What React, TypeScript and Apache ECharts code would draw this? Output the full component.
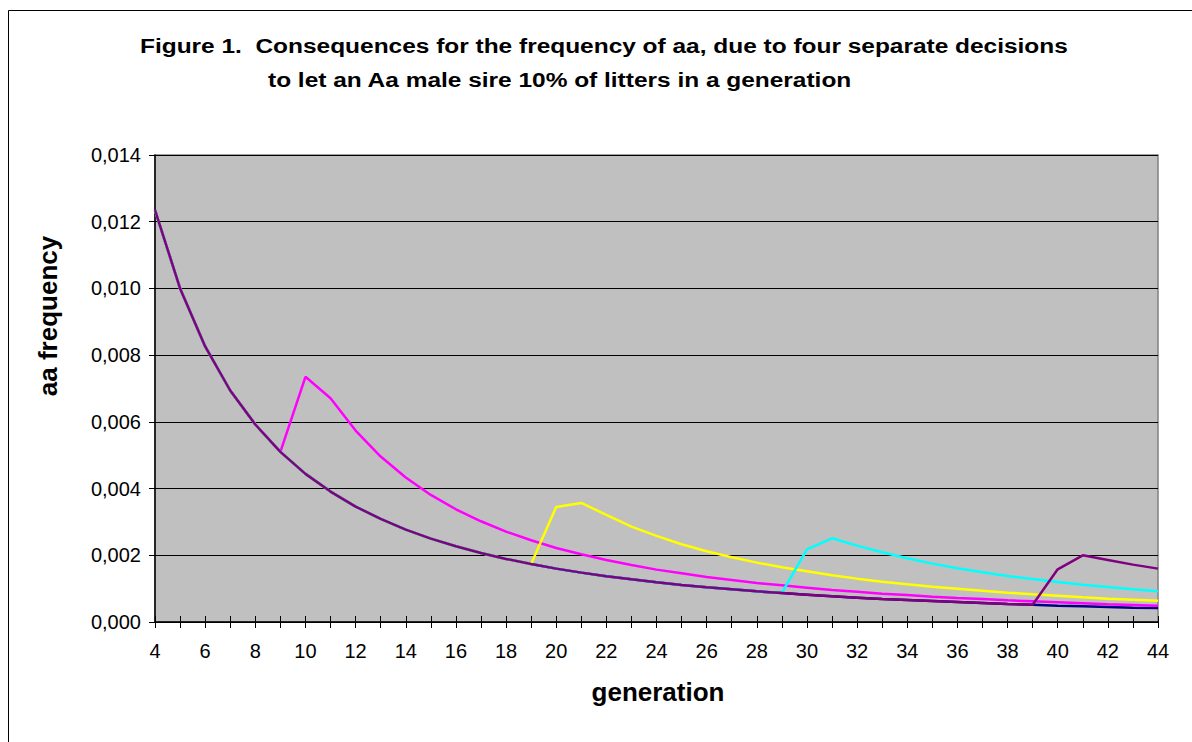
import React, { useEffect, useRef } from "react";
import * as echarts from "echarts";

const generations: string[] = [
  "4", "5", "6", "7", "8", "9", "10", "11", "12", "13", "14", "15", "16", "17", "18", "19", "20",
  "21", "22", "23", "24", "25", "26", "27", "28", "29", "30", "31", "32", "33", "34", "35", "36",
  "37", "38", "39", "40", "41", "42", "43", "44",
];

// aa frequency without any extra Aa sire (generations 4..44)
const baseFreq: number[] = [
  0.01235, 0.01, 0.00826, 0.00694, 0.00592, 0.0051, 0.00444, 0.00391, 0.00346, 0.00309,
  0.00277, 0.0025, 0.00227, 0.00207, 0.00189, 0.00174, 0.0016, 0.00148, 0.00137, 0.00128,
  0.00119, 0.00111, 0.00104, 0.00098, 0.00092, 0.00087, 0.00082, 0.00077, 0.00073, 0.00069,
  0.00066, 0.00063, 0.0006, 0.00057, 0.00054, 0.00052, 0.00049, 0.00047, 0.00045, 0.00043,
  0.00042,
];

// decisions: generation of decision and the values from the following generation on
const decision1Gen = 9;
const decision1After: number[] = [
  0.00735, 0.00671, 0.00574, 0.00496, 0.00433, 0.00381, 0.00338, 0.00302, 0.00271, 0.00245,
  0.00222, 0.00203, 0.00186, 0.00171, 0.00157, 0.00146, 0.00135, 0.00126, 0.00117, 0.0011,
  0.00103, 0.00096, 0.00091, 0.00085, 0.00081, 0.00076, 0.00072, 0.00069, 0.00065, 0.00062,
  0.00059, 0.00056, 0.00053, 0.00051, 0.00049,
];
const decision2Gen = 19;
const decision2After: number[] = [
  0.00345, 0.00357, 0.00321, 0.00286, 0.00258, 0.00233, 0.00212, 0.00194, 0.00178, 0.00164,
  0.00152, 0.0014, 0.0013, 0.00121, 0.00113, 0.00106, 0.001, 0.00094, 0.00088, 0.00083,
  0.00079, 0.00074, 0.0007, 0.00067, 0.00064,
];
const decision3Gen = 29;
const decision3After: number[] = [
  0.00218, 0.00251, 0.00229, 0.00209, 0.00191, 0.00175, 0.00161, 0.00149, 0.00138, 0.00129,
  0.0012, 0.00112, 0.00105, 0.00098, 0.00092,
];
const decision4Gen = 39;
const decision4After: number[] = [0.00158, 0.002, 0.00186, 0.00172, 0.0016];

const yTickLabels: string[] = ["0,000", "0,002", "0,004", "0,006", "0,008", "0,010", "0,012", "0,014"];

const FONT = '"Liberation Sans", Arial, sans-serif';

function buildSeries(decGen: number, after: number[]): (number | null)[] {
  return generations.map((g, i) => {
    const gen = Number(g);
    if (gen <= decGen) return baseFreq[i];
    return after[gen - decGen - 1];
  });
}

export default function App() {
  const ref = useRef<HTMLDivElement>(null);
  useEffect(() => {
    if (!ref.current) return;
    const chart = echarts.init(ref.current, undefined, { renderer: "svg" });
    const line = (name: string, data: (number | null)[], color: string, z: number) => ({
      name,
      type: "line",
      data,
      symbol: "none",
      z,
      lineStyle: { color, width: 2.5 },
      itemStyle: { color },
      connectNulls: false,
    });
    chart.setOption({
      animation: false,
      backgroundColor: "#ffffff",
      grid: {
        left: 155,
        top: 155,
        width: 1003,
        height: 467,
        show: true,
        backgroundColor: "#C0C0C0",
        borderColor: "#808080",
        borderWidth: 1.5,
      },
      xAxis: [
        {
          type: "category",
          data: generations,
          boundaryGap: false,
          axisLine: { show: true, lineStyle: { color: "#000", width: 1.5 } },
          axisTick: { show: true, inside: false, length: 6, interval: 0, lineStyle: { color: "#000" } },
          axisLabel: { interval: 1, margin: 19, color: "#000", fontSize: 20, fontFamily: FONT },
          splitLine: { show: false },
        },
        {
          type: "category",
          data: generations,
          boundaryGap: false,
          position: "bottom",
          axisLine: { show: false },
          axisTick: { show: true, inside: true, length: 6, interval: 0, lineStyle: { color: "#000" } },
          axisLabel: { show: false },
          splitLine: { show: false },
        },
      ],
      yAxis: {
        type: "value",
        min: 0,
        max: 0.014,
        interval: 0.002,
        axisLine: { show: true, lineStyle: { color: "#000", width: 1.5 } },
        axisTick: { show: true, inside: false, length: 6, lineStyle: { color: "#000" } },
        axisLabel: {
          margin: 14,
          color: "#000",
          fontSize: 20,
          fontFamily: FONT,
          formatter: (v: number) => yTickLabels[Math.round(v / 0.002)],
        },
        splitLine: { show: true, lineStyle: { color: "#000", width: 1 } },
      },
      series: [
        line("base", baseFreq, "#000080", 2),
        line("decision at 9", buildSeries(decision1Gen, decision1After), "#FF00FF", 3),
        line("decision at 19", buildSeries(decision2Gen, decision2After), "#FFFF00", 4),
        line("decision at 29", buildSeries(decision3Gen, decision3After), "#00FFFF", 5),
        line("decision at 39", buildSeries(decision4Gen, decision4After), "#800080", 6),
      ],
      graphic: [
        {
          type: "rect",
          silent: true,
          z: -10,
          shape: { x: 8.5, y: 10.5, width: 1400, height: 1000 },
          style: { fill: "none", stroke: "#000", lineWidth: 1 },
        },
        {
          type: "text",
          x: 140,
          y: 46,
          scaleX: 1.165,
          style: {
            text: "Figure 1.  Consequences for the frequency of aa, due to four separate decisions",
            fontSize: 21,
            fontWeight: "bold",
            fontFamily: FONT,
            fill: "#000",
            align: "left",
            verticalAlign: "middle",
          },
        },
        {
          type: "text",
          x: 268,
          y: 80,
          scaleX: 1.165,
          style: {
            text: "to let an Aa male sire 10% of litters in a generation",
            fontSize: 21,
            fontWeight: "bold",
            fontFamily: FONT,
            fill: "#000",
            align: "left",
            verticalAlign: "middle",
          },
        },
        {
          type: "text",
          x: 48,
          y: 316,
          rotation: Math.PI / 2,
          style: {
            text: "aa frequency",
            fontSize: 26,
            fontWeight: "bold",
            fontFamily: FONT,
            fill: "#000",
            align: "center",
            verticalAlign: "middle",
          },
        },
        {
          type: "text",
          x: 658,
          y: 692,
          style: {
            text: "generation",
            fontSize: 26,
            fontWeight: "bold",
            fontFamily: FONT,
            fill: "#000",
            align: "center",
            verticalAlign: "middle",
          },
        },
      ],
    });
    return () => chart.dispose();
  }, []);
  return (
    <div
      ref={ref}
      style={{ position: "fixed", left: 0, top: 0, width: 1192, height: 742 }}
    />
  );
}
